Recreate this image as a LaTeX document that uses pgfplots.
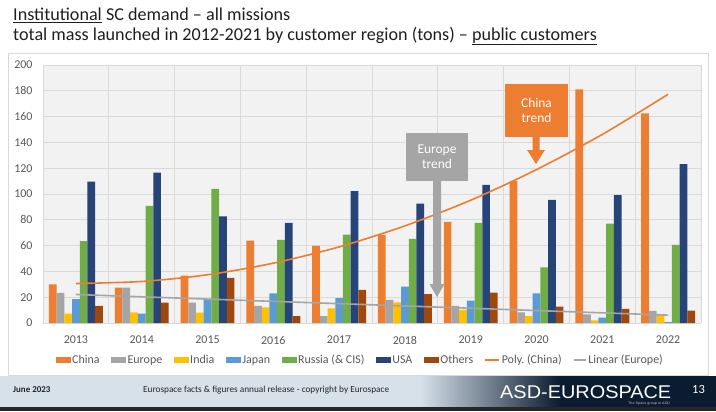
\documentclass[border=0pt]{standalone}
\usepackage{pgfplots}
\usepackage{pgfplotstable}
\pgfplotsset{compat=1.18}
\usepackage{fontspec}
\setmainfont{Carlito}
\newfontfamily\logofont{Liberation Sans}[FakeStretch=1.08]
\definecolor{cChina}{HTML}{ED7D31}
\definecolor{cEurope}{HTML}{A5A5A5}
\definecolor{cIndia}{HTML}{FFC000}
\definecolor{cJapan}{HTML}{5B9BD5}
\definecolor{cRussia}{HTML}{70AD47}
\definecolor{cUSA}{HTML}{264478}
\definecolor{cOthers}{HTML}{9E480E}
\definecolor{txt}{HTML}{595959}
\definecolor{gridc}{HTML}{D9D9D9}
\definecolor{footL}{HTML}{D6E1EA}
\definecolor{footD}{HTML}{0B1B30}

\pgfplotstableread{
year China Europe India Japan Russia USA Others
2013 30.0 23.3 7.2 18.6 63.4 109.5 13.2
2014 27.4 27.4 8.3 7.2 90.8 116.5 15.8
2015 36.7 15.8 8.0 18.4 104.0 82.6 34.9
2016 63.9 13.2 12.2 23.0 64.4 77.6 5.4
2017 59.8 5.4 11.4 19.2 68.6 102.2 25.6
2018 68.3 17.9 16.0 28.2 65.2 92.6 22.3
2019 78.4 13.2 10.1 17.3 77.6 107.1 23.6
2020 110.2 8.3 5.4 23.0 43.2 95.5 12.7
2021 181.2 6.7 2.1 4.1 77.1 99.1 10.9
2022 162.5 9.4 6.5 0.6 60.6 123.2 9.6
}\bars

\pgfplotstableread{
year poly
2013 30.6
2014 32.2
2015 37.4
2016 46.4
2017 59.0
2018 75.3
2019 95.2
2020 118.9
2021 146.2
2022 177.3
}\polychina

\pgfplotstableread{
year lin
2013 22.1
2022 6.1
}\lineurope

\begin{document}
\begin{tikzpicture}[x=1bp,y=1bp]
\useasboundingbox (0,0) rectangle (716,411);
\fill[white] (0,0) rectangle (716,411);
% chart frame
\draw[gridc, line width=0.8bp, fill=white] (8,36) rectangle (708,358);
% title
\node[anchor=base west, inner sep=0, font=\fontsize{18.2}{20}\selectfont, text=black!88] at (13,390) {\underline{Institutional} SC demand – all missions};
\node[anchor=base west, inner sep=0, font=\fontsize{18.2}{20}\selectfont, text=black!88] at (13,370.7) {total mass launched in 2012-2021 by customer region (tons) – \underline{public customers}};

\begin{axis}[
  at={(43bp,88bp)}, anchor=south west,
  scale only axis, width=658bp, height=258bp,
  ybar=0pt, bar width=7.7bp,
  xmin=2012.5, xmax=2022.5, ymin=0, ymax=200,
  xtick={2013,2014,2015,2016,2017,2018,2019,2020,2021,2022},
  xticklabels={2013,2014,2015,2016,2017,2018,2019,2020,2021,2022},
  minor xtick={2012.5,2013.5,2014.5,2015.5,2016.5,2017.5,2018.5,2019.5,2020.5,2021.5,2022.5},
  ytick={0,20,...,200},
  ymajorgrids, xminorgrids,
  grid style={gridc, line width=0.8bp},
  major tick length=0pt, minor tick length=0pt,
  axis line style={draw=none},
  axis background/.style={fill=black!5},
  tick label style={font=\fontsize{12}{12}\selectfont, text=txt},
  xticklabel style={yshift=-9.5bp},
  yticklabel style={xshift=-7bp},
  /pgf/number format/assume math mode=true,
  legend columns=9,
  legend style={at={(0.4818,-0.1434)}, anchor=center, draw=none, fill=none,
    font=\fontsize{12}{12}\selectfont, text=txt,
    /tikz/every even column/.append style={column sep=10bp},
    nodes={inner xsep=1.5bp, inner ysep=1bp},
    inner sep=0pt},
  legend cell align=left,
  legend image code/.code={\fill[#1] (0bp,-3bp) rectangle (15bp,3bp);},
]
\addplot[fill=cChina, draw=none, bar shift=-23.1bp] table[x=year,y=China] {\bars};
\addplot[fill=cEurope, draw=none, bar shift=-15.4bp] table[x=year,y=Europe] {\bars};
\addplot[fill=cIndia, draw=none, bar shift=-7.7bp] table[x=year,y=India] {\bars};
\addplot[fill=cJapan, draw=none, bar shift=0bp] table[x=year,y=Japan] {\bars};
\addplot[fill=cRussia, draw=none, bar shift=7.7bp] table[x=year,y=Russia] {\bars};
\addplot[fill=cUSA, draw=none, bar shift=15.4bp] table[x=year,y=USA] {\bars};
\addplot[fill=cOthers, draw=none, bar shift=23.1bp] table[x=year,y=Others] {\bars};
\addplot[cChina, line width=1.6bp, smooth, mark=none,
  legend image code/.code={\draw[cChina, line width=1.6bp] (0bp,0bp) -- (14bp,0bp);}] table[x=year,y=poly] {\polychina};
\addplot[cEurope, line width=1.6bp, sharp plot, mark=none,
  legend image code/.code={\draw[cEurope, line width=1.6bp] (0bp,0bp) -- (12bp,0bp);}] table[x=year,y=lin] {\lineurope};
\legend{China,Europe,India,Japan,Russia (\& CIS),USA,Others,Poly.\ (China),Linear (Europe)}
\end{axis}

% callouts
\fill[cChina] (505,327) rectangle (568,274);
\fill[cChina] (532.5,274.5) -- (539.5,274.5) -- (539.5,261) -- (545,261) -- (536,247) -- (527,261) -- (532.5,261) -- cycle;
\node[align=center, text=white, font=\fontsize{13.5}{15.5}\selectfont, inner sep=0] at (536.5,300.5) {China\\trend};
\fill[cEurope] (406,278) rectangle (468,230);
\fill[cEurope] (433,230.5) -- (441,230.5) -- (441,127) -- (444.5,127) -- (437,114) -- (429.5,127) -- (433,127) -- cycle;
\node[align=center, text=white, font=\fontsize{13.5}{15.5}\selectfont, inner sep=0] at (437,254) {Europe\\trend};

% footer
\fill[footL] (0,4) rectangle (716,35);
\shade[left color=footL, right color=footD] (420,4) rectangle (560,35);
\fill[footD] (559.5,4) rectangle (716,35);
\fill[black!85] (0,0) rectangle (716,4);
\node[anchor=base west, inner sep=0, font=\bfseries\fontsize{9}{10}\selectfont, text=black!85] at (13,19) {June 2023};
\node[anchor=base west, inner sep=0, font=\fontsize{9.3}{10}\selectfont, text=black!85] at (143,19) {Eurospace facts \& figures annual release - copyright by Eurospace};
\node[anchor=base west, inner sep=0, text=white, font=\logofont\fontsize{18.5}{20}\selectfont] at (500,13) {ASD-EUROSPACE};
\node[anchor=base east, inner sep=0, text=white!75!black, font=\logofont\fontsize{3.5}{4}\selectfont] at (670,7) {The Space group in ASD};
\node[anchor=base, inner sep=0, text=white, font=\fontsize{12.5}{13}\selectfont] at (698.5,17.3) {13};
\end{tikzpicture}
\end{document}
